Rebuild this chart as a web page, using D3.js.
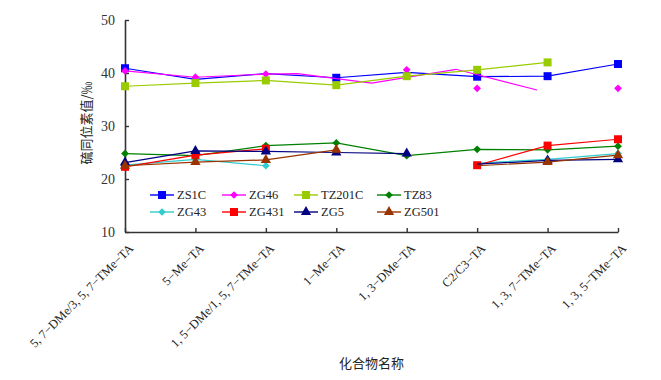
<!DOCTYPE html>
<html>
<head>
<meta charset="utf-8">
<script src="https://cdn.jsdelivr.net/npm/d3@7"></script>
<style>
body { margin: 0; background: #fff; }
svg { display: block; }
</style>
</head>
<body>
<svg id="chart" width="661" height="380"></svg>
<script>
const categories = ['5, 7−DMe/3, 5, 7−TMe−TA', '5−Me−TA', '1, 5−DMe/1, 5, 7−TMe−TA', '1−Me−TA',
    '1, 3−DMe−TA', 'C2/C3−TA', '1, 3, 7−TMe−TA', '1, 3, 5−TMe−TA'];
const yTicks = [10, 20, 30, 40, 50];

// marker values per category, null = no marker drawn
const zs1c = [40.9, null, null, 39.1, null, 39.3, 39.4, 41.7];
const zs1cLine = [40.9, 38.8, 39.9, 39.1, 40.1, 39.3, 39.4, 41.7];
const zg46 = [40.4, 39.2, 39.8, null, 40.6, 37.1, null, 37.1];
// ZG46 line does not sit on its markers after 1,5-DMe: [category index, value]
const zg46Line = [[0, 40.4], [1, 39.2], [2, 39.8], [2.45, 39.9], [3.5, 38.1], [4.7, 40.7], [5.85, 36.8]];
const tz201c = [37.5, 38.1, 38.6, 37.7, 39.4, 40.6, 42.0, null];
const tz83 = [24.8, 24.4, 26.3, 26.8, 24.4, 25.6, 25.5, 26.2];
const zg43 = [22.6, 23.7, 22.5, null, null, null, 23.7, 24.8];
const zg43Line = [22.6, 23.7, 22.5, null, null, 23.0, 23.7, 24.8];
const zg431 = [22.3, 24.5, 25.7, null, null, 22.6, 26.3, 27.5];
const zg5 = [23.1, 25.3, 25.2, 25.0, 24.8, null, 23.5, 23.7];
const zg5Line = [23.1, 25.3, 25.2, 25.0, 24.8, 22.8, 23.5, 23.7];
const zg5Gap = [4]; // no segment between 1,3-DMe and C2/C3 for ZG5
const zg501 = [22.5, 23.2, 23.6, 25.5, null, null, 23.2, 24.5];
const zg501Line = [22.5, 23.2, 23.6, 25.5, null, 22.5, 23.2, 24.5];

const toPairs = arr => arr.map((v, i) => [i, v]);

const series = [
    { name: 'ZS1C', marks: zs1c, line: toPairs(zs1cLine), color: '#0000ff', shape: 'square' },
    { name: 'ZG46', marks: zg46, line: zg46Line, color: '#ff00ff', shape: 'diamond' },
    { name: 'TZ201C', marks: tz201c, line: toPairs(tz201c), color: '#99cc00', shape: 'square' },
    { name: 'TZ83', marks: tz83, line: toPairs(tz83), color: '#008000', shape: 'diamond' },
    { name: 'ZG43', marks: zg43, line: toPairs(zg43Line), color: '#33cccc', shape: 'diamond' },
    { name: 'ZG431', marks: zg431, line: toPairs(zg431), color: '#ff0000', shape: 'square' },
    { name: 'ZG5', marks: zg5, line: toPairs(zg5Line), color: '#000080', shape: 'triangle', gaps: zg5Gap },
    { name: 'ZG501', marks: zg501, line: toPairs(zg501Line), color: '#993300', shape: 'triangle' }
];

const serif = "'Liberation Serif', 'Times New Roman', serif";
const cjk = "'Noto Sans CJK SC', sans-serif";

const svg = d3.select('#chart');

const x = d3.scalePoint().domain(categories).range([125, 618]).padding(0);
const xPos = i => x(categories[0]) + i * x.step();
const y = d3.scaleLinear().domain([10, 50]).range([232, 20]);

// axes, ticks point inward
const yAxis = svg.append('g')
    .attr('transform', 'translate(125,0)')
    .call(d3.axisLeft(y).tickValues(yTicks).tickSizeInner(-4).tickSizeOuter(0).tickPadding(10));
const xAxis = svg.append('g')
    .attr('transform', 'translate(0,232)')
    .call(d3.axisBottom(x).tickSizeInner(-4).tickSizeOuter(0).tickFormat(''));

[yAxis, xAxis].forEach(ax => {
    ax.select('.domain').attr('stroke', '#333').attr('stroke-width', 1.6);
    ax.selectAll('.tick line').attr('stroke', '#333').attr('stroke-width', 1.4);
});
yAxis.selectAll('.tick text')
    .style('font-family', serif)
    .style('font-size', '14px')
    .attr('fill', '#333');

// rotated category labels
svg.append('g').selectAll('text')
    .data(categories)
    .enter()
    .append('text')
    .attr('transform', d => `translate(${x(d) + 6},246) rotate(-45)`)
    .attr('text-anchor', 'end')
    .attr('dy', '0.35em')
    .style('font-family', serif)
    .style('font-size', '12.5px')
    .attr('fill', '#222')
    .text(d => d);

// axis titles
svg.append('text')
    .attr('transform', 'translate(86,123) rotate(-90)')
    .attr('text-anchor', 'middle')
    .attr('dy', '0.35em')
    .style('font-family', cjk)
    .style('font-size', '13px')
    .attr('fill', '#222')
    .text('硫同位素值/‰');

svg.append('text')
    .attr('x', (125 + 618) / 2)
    .attr('y', 363)
    .attr('text-anchor', 'middle')
    .attr('dy', '0.35em')
    .style('font-family', cjk)
    .style('font-size', '13px')
    .attr('fill', '#222')
    .text('化合物名称');

// draws one marker at px,py
function marker(g, shape, color, px, py) {
    let path, rot = 0;
    if (shape === 'square') {
        path = d3.symbol().type(d3.symbolSquare).size(64)();
    } else if (shape === 'diamond') {
        path = d3.symbol().type(d3.symbolSquare).size(30)();
        rot = 45;
    } else {
        path = d3.symbol().type(d3.symbolTriangle).size(46)();
    }
    g.append('path')
        .attr('d', path)
        .attr('transform', `translate(${px},${py}) rotate(${rot})`)
        .attr('fill', color);
}

const plot = svg.append('g');

series.forEach(s => {
    const g = plot.append('g').attr('class', 'series');
    const gaps = s.gaps || [];

    const line = d3.line()
        .defined(d => d[1] !== null)
        .x(d => xPos(d[0]))
        .y(d => y(d[1]));

    // split into runs where a gap follows an index
    let runs = [[]];
    s.line.forEach(d => {
        runs[runs.length - 1].push(d);
        if (gaps.includes(d[0])) runs.push([]);
    });
    runs.forEach(r => {
        g.append('path')
            .attr('d', line(r))
            .attr('fill', 'none')
            .attr('stroke', s.color)
            .attr('stroke-width', 1.2);
    });

    s.marks.forEach((v, i) => {
        if (v === null) return;
        marker(g, s.shape, s.color, xPos(i), y(v));
    });
});

// legend, two rows of four
const legendCols = [150, 222, 294, 377];
const legendRows = [195, 212];
const legend = svg.append('g');
series.forEach((s, i) => {
    const lx = legendCols[i % 4];
    const ly = legendRows[Math.floor(i / 4)];
    legend.append('line')
        .attr('x1', lx).attr('x2', lx + 24)
        .attr('y1', ly).attr('y2', ly)
        .attr('stroke', s.color)
        .attr('stroke-width', 1.4);
    marker(legend, s.shape, s.color, lx + 12, ly);
    legend.append('text')
        .attr('x', lx + 27)
        .attr('y', ly)
        .attr('dy', '0.35em')
        .style('font-family', serif)
        .style('font-size', '12.5px')
        .attr('fill', '#222')
        .text(s.name);
});
</script>
</body>
</html>
